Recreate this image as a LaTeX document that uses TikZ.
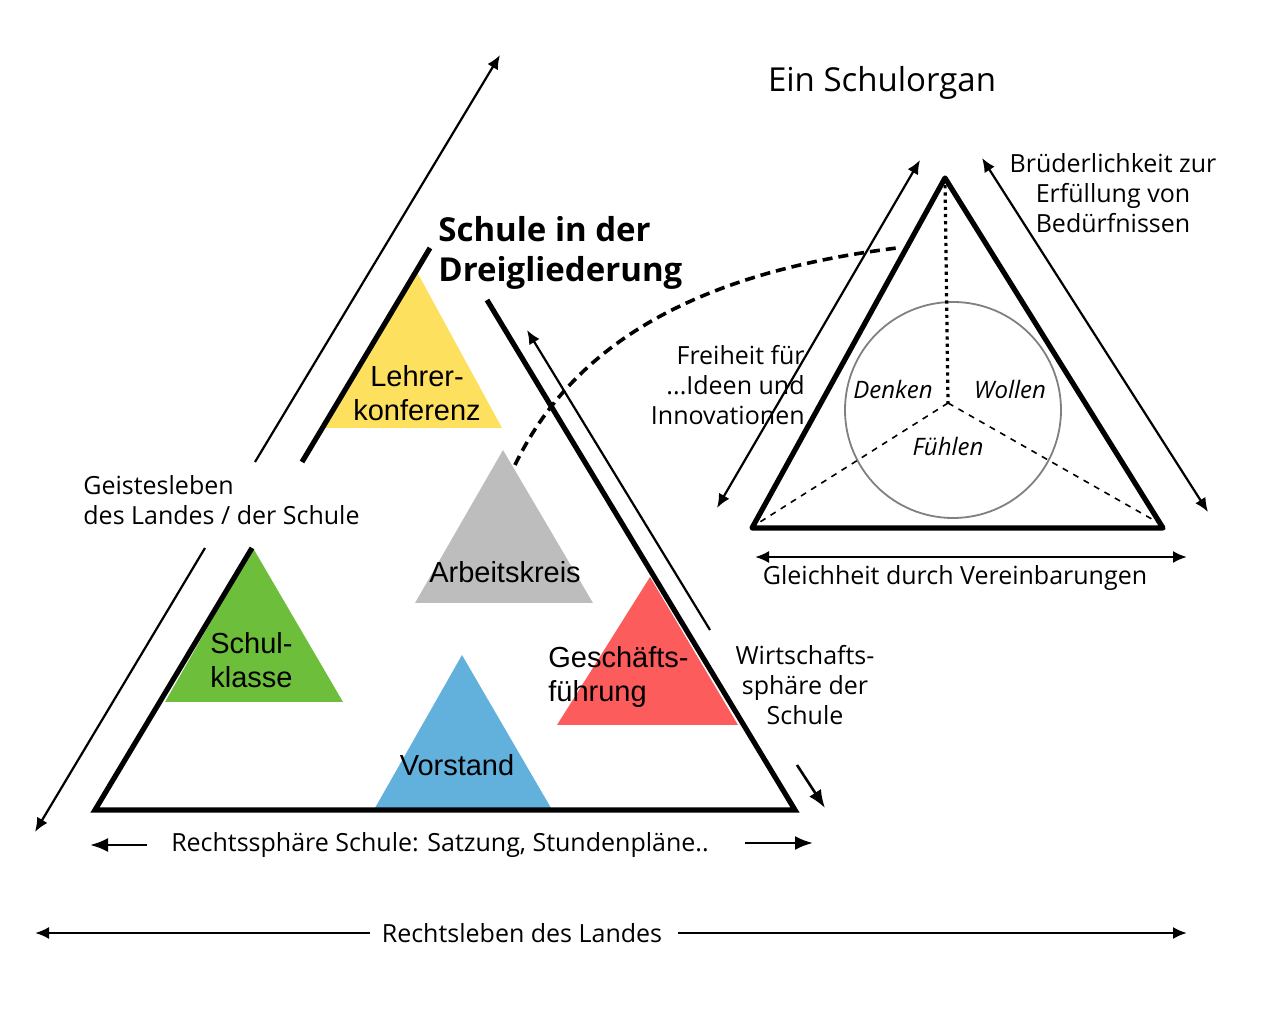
\documentclass[tikz,border=0pt]{standalone}
\usepackage{fontspec}
\setmainfont{Liberation Sans}
\newfontfamily\gillfont{Open Sans}
\usetikzlibrary{arrows.meta}
\definecolor{yellowtri}{HTML}{FDE05E}
\definecolor{graytri}{HTML}{BDBDBD}
\definecolor{greentri}{HTML}{6DBE3A}
\definecolor{bluetri}{HTML}{62B0DC}
\definecolor{redtri}{HTML}{FC5C5C}
\tikzset{
  lbl/.style={font=\fontsize{14.5}{17}\selectfont, align=left, inner sep=0pt},
  txt/.style={font=\gillfont\fontsize{12.5}{15}\selectfont, inner sep=0pt},
  arr/.style={-{Latex[length=9pt,width=7pt]}, line width=1.3pt},
  thin arr/.style={-{Latex[length=7pt,width=6pt]}, line width=1.1pt},
  dbl arr/.style={{Latex[length=7pt,width=6pt]}-{Latex[length=7pt,width=6pt]}, line width=1.1pt},
  heavy/.style={line width=2.6pt}
}
\begin{document}
\begin{tikzpicture}[x=0.5pt,y=-0.5pt]
\useasboundingbox (0,0) rectangle (1280,1036);

% small triangles
\fill[yellowtri] (417,272) -- (502,428) -- (325,428) -- cycle;
\fill[graytri] (503,450) -- (593,603) -- (415,603) -- cycle;
\fill[greentri] (253,548) -- (343,702) -- (165,702) -- cycle;
\fill[bluetri] (462,655) -- (551,808) -- (375,808) -- cycle;
\fill[redtri] (650,577) -- (738,725) -- (557,725) -- cycle;

% main triangle
\coordinate (base1) at (95,810);
\coordinate (base2) at (795,810);
\draw[heavy] (252,548) -- (base1) -- (base2) -- (487,300);
\draw[heavy] (302,462) -- (430,248);

% outer arrows
\draw[thin arr] (205,548) -- (35,832);
\draw[thin arr] (255,462) -- (500,55);
\draw[thin arr] (710,630) -- (527,330);
\draw[arr] (797,765) -- (825,808);
\draw[arr] (147,845) -- (90,845);
\draw[arr] (745,843) -- (813,843);
\draw[thin arr] (370,933) -- (35,933);
\draw[thin arr] (678,933) -- (1187,933);

% labels main
\node[lbl, anchor=center, align=center] (lehrer) at (417,393) {Lehrer-\\konferenz};
\node[lbl] (arbeit) at (505,572) {Arbeitskreis};
\node[lbl, anchor=west] (klasse) at (210,660) {Schul-\\klasse};
\node[lbl] (vorstand) at (457,765) {Vorstand};
\node[lbl, anchor=west] (gesch) at (548,677) {Geschäfts-\\führung};
\node[font=\gillfont\fontsize{16.5}{20}\selectfont\bfseries, align=left, anchor=west, inner sep=0pt] (schule) at (438,253) {Schule in der\\Dreigliederung};
\node[txt, align=left, anchor=west] (geist) at (83,500) {Geistesleben\\des Landes / der Schule};
\node[txt, align=center] (wirt) at (805,685) {Wirtschafts-\\sphäre der\\Schule};
\node[txt] (rsph) at (440,845) {Rechtssphäre Schule: Satzung, Stundenpläne..};
\node[txt] (rleb) at (522,933) {Rechtsleben des Landes};

% right triangle
\coordinate (top) at (945,178);
\coordinate (bl) at (752,528);
\coordinate (br) at (1163,528);
\coordinate (mid) at (948,403);
\draw[heavy, line join=round] (top) -- (br) -- (bl) -- cycle;
\draw[gray, line width=0.9pt] (953,410) circle (108);
\draw[dotted, line width=1.6pt] (top) -- (mid);
\draw[dashed, line width=0.8pt] (mid) -- (760,522);
\draw[dashed, line width=0.8pt] (mid) -- (1157,522);
\node[txt, font=\gillfont\itshape\fontsize{12}{14}\selectfont] (denken) at (893,390) {Denken};
\node[txt, font=\gillfont\itshape\fontsize{12}{14}\selectfont] (wollen) at (1010,390) {Wollen};
\node[txt, font=\gillfont\itshape\fontsize{12}{14}\selectfont] (fuehlen) at (948,447) {Fühlen};

\draw[dbl arr] (920,160) -- (717,508);
\draw[dbl arr] (982,158) -- (1208,512);
\draw[dbl arr] (755,557) -- (1187,557);

\node[txt, font=\gillfont\fontsize{16.5}{20}\selectfont] (organ) at (882,83) {Ein Schulorgan};
\node[txt, align=center] (brud) at (1113,193) {Brüderlichkeit zur\\Erfüllung von\\Bedürfnissen};
\node[txt, align=right, anchor=east] (frei) at (805,385) {Freiheit für\\...Ideen und\\Innovationen};
\node[txt] (gleich) at (955,578) {Gleichheit durch Vereinbarungen};

% link
\draw[dashed, line width=1.8pt, dash pattern=on 5pt off 3pt] (515,465) .. controls (580,330) and (720,270) .. (897,248);
\end{tikzpicture}
\end{document}
